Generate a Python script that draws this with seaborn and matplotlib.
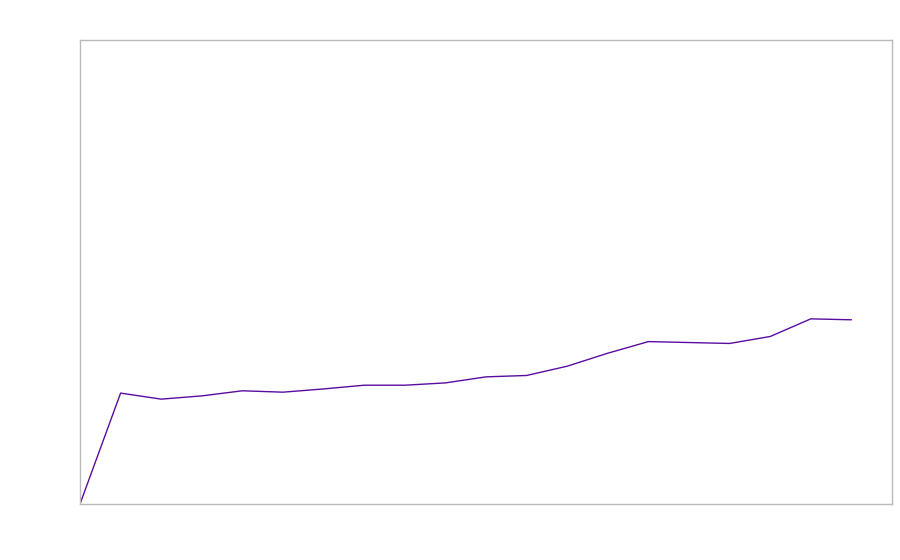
import matplotlib
matplotlib.use("Agg")
import matplotlib.pyplot as plt
import seaborn as sns
import pandas as pd

sns.set_theme(style="white")

steps = list(range(20))
values = [0.0, 23.9, 22.6, 23.3, 24.4, 24.1, 24.8, 25.6, 25.6, 26.1,
          27.4, 27.7, 29.7, 32.5, 35.0, 34.8, 34.6, 36.1, 39.9, 39.7]

df = pd.DataFrame({"step": steps, "value": values})

fig = plt.figure(figsize=(9, 5.6), dpi=100)
ax = fig.add_axes([80/900, 56/560, 812/900, 464/560])
sns.lineplot(data=df, x="step", y="value", ax=ax, color="#5a0ca0", linewidth=1.0)
ax.set_xlim(0, 20)
ax.set_ylim(0, 100)
ax.set_xticks([])
ax.set_yticks([])
ax.set_xlabel("")
ax.set_ylabel("")
for s in ax.spines.values():
    s.set_color("#bbbbbb")
    s.set_linewidth(1.0)
fig.savefig("out.png", dpi=100)
